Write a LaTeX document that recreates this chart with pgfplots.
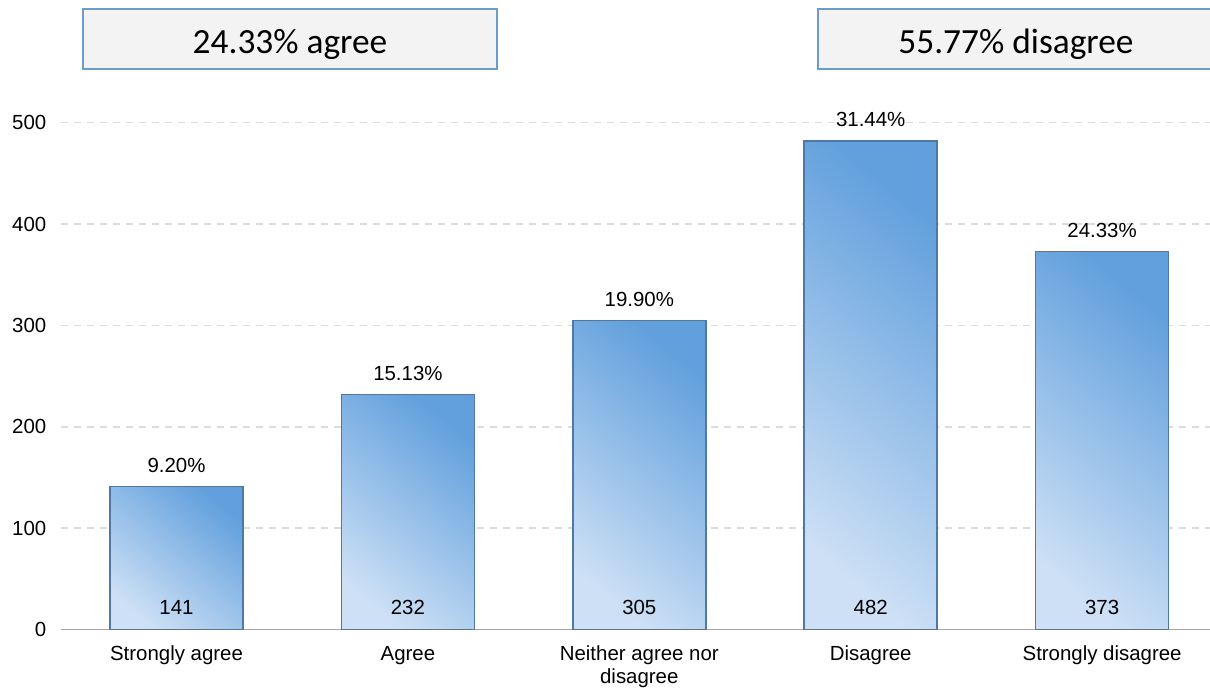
\documentclass[border=0pt]{standalone}
\usepackage{pgfplots}
\pgfplotsset{compat=1.18}
\usepackage{fontspec}
\setmainfont{Liberation Sans}
\newfontfamily\boxfont{Carlito}
\definecolor{barlight}{RGB}{205,224,245}
\definecolor{bardark}{RGB}{98,160,221}
\definecolor{barborder}{RGB}{77,120,168}
\definecolor{boxborder}{RGB}{108,155,208}
\definecolor{boxfill}{RGB}{243,243,243}
\definecolor{gridgray}{RGB}{220,220,220}
\definecolor{axisgray}{RGB}{166,166,166}
\newcommand{\lblfont}{\fontsize{20.5}{23}\selectfont}
\pgfplotsset{
  barstyle/.style={ybar, bar width=133bp, bar shift=0pt, draw=barborder, line width=1.5bp,
    bottom color=barlight, top color=bardark, shading angle=-40,
    nodes near coords, point meta=explicit symbolic,
    nodes near coords style={anchor=base, yshift=14bp, font=\lblfont, text=black, fill=none, draw=none}},
}
\begin{document}
\begin{tikzpicture}
\useasboundingbox (0,0) rectangle (1210bp,690bp);
\draw[fill=boxfill, draw=boxborder, line width=2bp] (83bp,621bp) rectangle (497bp,681bp);
\node[anchor=base, font=\boxfont\fontsize{35.5}{40}\selectfont, inner sep=0pt] at (290bp,636.7bp) {24.33\% agree};
\draw[fill=boxfill, draw=boxborder, line width=2bp] (818bp,621bp) rectangle (1214bp,681bp);
\node[anchor=base, font=\boxfont\fontsize{35.5}{40}\selectfont, inner sep=0pt] at (1016bp,636.7bp) {55.77\% disagree};
\begin{axis}[
  at={(176.5bp,60.5bp)}, anchor=origin,
  x=231.4bp, y=1.0136bp,
  xmin=-0.5, xmax=4.5, ymin=0, ymax=500,
  clip=false,
  axis x line*=bottom, axis y line*=left,
  y axis line style={draw=none},
  x axis line style={draw=axisgray, line width=1.5bp},
  major tick length=0pt,
  ytick={0,100,200,300,400,500},
  xtick={0,1,2,3,4},
  xticklabels={Strongly agree, Agree, {Neither agree nor\\disagree}, Disagree, Strongly disagree},
  ymajorgrids,
  grid style={gridgray, line width=1.5bp, dash pattern=on 7bp off 6bp},
  /pgf/number format/assume math mode=true,
  ticklabel style={font=\lblfont, text=black},
  xticklabel style={align=center, yshift=-13bp},
  yticklabel style={xshift=-11bp},
]
\addplot[barstyle] coordinates {(0,141) [9.20\%]};
\addplot[barstyle] coordinates {(1,232) [15.13\%]};
\addplot[barstyle] coordinates {(2,305) [19.90\%]};
\addplot[barstyle] coordinates {(3,482) [31.44\%]};
\addplot[barstyle] coordinates {(4,373) [24.33\%]};
\addplot[ybar, bar width=133bp, bar shift=0pt, draw=none, fill=none, forget plot,
  point meta=y, nodes near coords,
  visualization depends on={rawy \as \rawy},
  nodes near coords style={anchor=base, yshift=15bp-\rawy*1.0136bp, font=\lblfont, text=black}]
  coordinates {(0,141) (1,232) (2,305) (3,482) (4,373)};
\end{axis}
\end{tikzpicture}
\end{document}
